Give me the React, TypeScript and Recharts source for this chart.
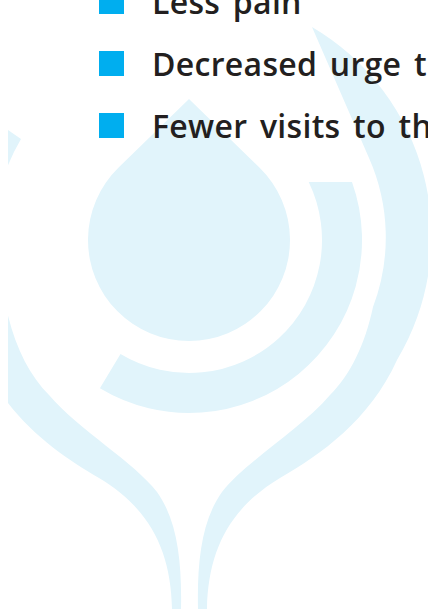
import React from 'react';
import { PieChart, Legend, Customized } from 'recharts';

// Legend entries (the list is cut by the picture's right edge)
const legendLabels = ['Less pain', 'Decreased urge to urinate', 'Fewer visits to the toilet'];
const legendColors = ['#00AEEF', '#00AEEF', '#00AEEF'];

const W = 428;
const H = 609;
const WATERMARK = '#E1F4FB';

function Watermark() {
  return (
    <g>
      <defs>
        <clipPath id="wmclip">
          <rect x={8} y={0} width={420} height={609} />
        </clipPath>
      </defs>
      <g clipPath="url(#wmclip)" fill={WATERMARK}>
        <path d="M189 99 L118.6 167.6 A101 101 0 1 0 259.4 167.6 Z" />
        <path d="M308.7 182 L352 182 A173 173 0 0 1 99.9 388.3 L120.5 354 A133 133 0 0 0 308.7 182 Z" />
        <path d="M312 27 A242 242 0 0 1 397 360 C370 420 320 455 280 478 C230 508 208 550 207 609 L198 609 C197 560 202 520 222 492 C245 462 300 430 330 395 C350 375 365 345 373 307 A196 196 0 0 0 369 158 Z" />
        <path d="M-15 114 A240 240 0 0 0 -18 360 C9 420 59 455 99 478 C149 508 171 550 172 609 L181 609 C182 560 177 520 157 492 C134 462 79 430 49 395 C29 375 14 345 6 307 A196 196 0 0 1 21 139 Z" />
      </g>
    </g>
  );
}

const renderLegend = () => (
  <div style={{ display: 'flex', flexDirection: 'column' }}>
    {legendLabels.map((label, i) => (
      <div
        key={label}
        style={{
          position: 'relative',
          height: 62,
          paddingLeft: 53,
          whiteSpace: 'nowrap',
          fontFamily: '"Open Sans", sans-serif',
          fontWeight: 600,
          fontSize: 32,
          letterSpacing: 0.3,
          wordSpacing: 4,
          lineHeight: '62px',
          color: '#231F20',
        }}
      >
        <span
          style={{
            position: 'absolute',
            left: 0,
            top: 18.4,
            width: 25,
            height: 25,
            background: legendColors[i],
          }}
        />
        {label}
      </div>
    ))}
  </div>
);

export default function App() {
  return (
    <div style={{ position: 'absolute', left: 0, top: 0, width: W, height: H, overflow: 'hidden', background: '#fff' }}>
      <PieChart width={W} height={H} margin={{ top: 0, right: 0, bottom: 0, left: 0 }}>
        <Customized component={<Watermark />} />
        <Legend
          content={renderLegend}
          wrapperStyle={{ position: 'absolute', left: 99, top: -29.4, width: 'auto' }}
        />
      </PieChart>
    </div>
  );
}
